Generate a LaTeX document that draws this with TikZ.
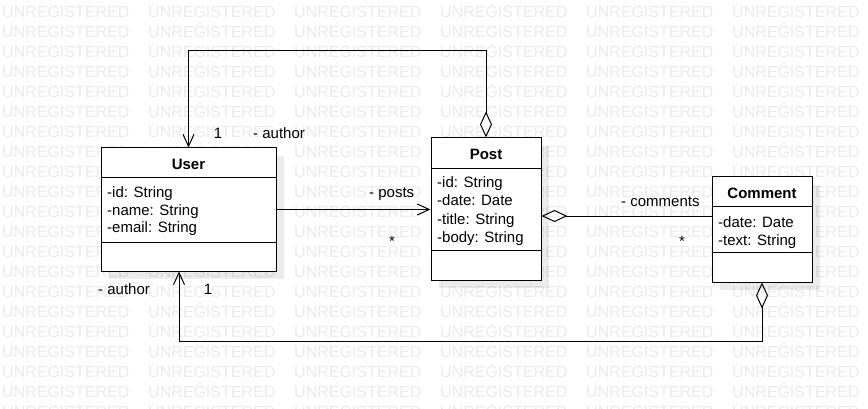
\documentclass[tikz,border=0pt]{standalone}
\usepackage{fontspec}
\setmainfont{Liberation Sans}
\usetikzlibrary{arrows.meta,shadows}
\tikzset{>=Straight Barb,
	classbox/.style={draw=black,fill=white,line width=1pt,inner sep=0pt,drop shadow={shadow xshift=8pt,shadow yshift=-8pt,fill=black,opacity=0.08}},
	ctitle/.style={inner sep=0pt,anchor=base,font=\fontsize{15}{18}\selectfont\bfseries},
	cattr/.style={inner sep=0pt,anchor=base west,font=\fontsize{15}{18}\selectfont},
	rlabel/.style={inner sep=0pt,font=\fontsize{15}{18}\selectfont},
	wmark/.style={inner sep=0pt,anchor=west,text=black!8,font=\fontsize{16}{19}\selectfont},
	assoc/.style={line width=1pt,-{Straight Barb[length=12pt,width=11pt]}},
	aggr/.style={line width=1pt,{Diamond[open,length=26pt,width=12pt]}-{Straight Barb[length=12pt,width=11pt]}},
	aggrline/.style={line width=1pt,{Diamond[open,length=26pt,width=12pt]}-}}

\begin{document}
\begin{tikzpicture}[x=1pt,y=-1pt]
	\useasboundingbox (0,0) rectangle (868,409);
	\clip (0,0) rectangle (868,409);
	\fill[white] (0,0) rectangle (868,409);
	\foreach \i in {0,...,5}
	\foreach \j in {0,...,20}
	\node (wm-\i-\j) at (2+146*\i,11.5+20*\j) [wmark] {UNREGISTERED};
	\node (User) at (188.5,209.5) [classbox,minimum width=175pt,minimum height=123pt] {};
	\node (Post) at (486,209) [classbox,minimum width=110pt,minimum height=142pt] {};
	\node (Comment) at (762,229.5) [classbox,minimum width=100pt,minimum height=105pt] {};
	\draw[line width=1pt] ([yshift=-30pt]User.north west) -- ([yshift=-30pt]User.north east);
	\draw[line width=1pt] ([yshift=-95pt]User.north west) -- ([yshift=-95pt]User.north east);
	\draw[line width=1pt] ([yshift=-31pt]Post.north west) -- ([yshift=-31pt]Post.north east);
	\draw[line width=1pt] ([yshift=-113pt]Post.north west) -- ([yshift=-113pt]Post.north east);
	\draw[line width=1pt] ([yshift=-30pt]Comment.north west) -- ([yshift=-30pt]Comment.north east);
	\draw[line width=1pt] ([yshift=-76pt]Comment.north west) -- ([yshift=-76pt]Comment.north east);
	\node (Utitle) at (188.5,170) [ctitle] {User};
	\node (Uid) at (107,197) [cattr] {-id: String};
	\node (Uname) at (107,215) [cattr] {-name: String};
	\node (Uemail) at (107,233) [cattr] {-email: String};
	\node (Ptitle) at (486,160) [ctitle] {Post};
	\node (Pid) at (437,188) [cattr] {-id: String};
	\node (Pdate) at (437,206) [cattr] {-date: Date};
	\node (Ptitlef) at (437,224) [cattr] {-title: String};
	\node (Pbody) at (437,242) [cattr] {-body: String};
	\node (Ctitle) at (762,199) [ctitle] {Comment};
	\node (Cdate) at (718,227) [cattr] {-date: Date};
	\node (Ctext) at (718,245) [cattr] {-text: String};
	\coordinate (topline) at (0,51);
	\coordinate (botline) at (0,341);
	\draw[aggr] (Post.north) |- (User.north |- topline) -- (User.north);
	\draw[assoc] (User.east) -- (Post.west |- User.east);
	\draw[aggrline] ([yshift=-7pt]Post.east) -- ([yshift=-7pt]Post.east -| Comment.west);
	\draw[aggr] (Comment.south) |- ([xshift=-9.5pt]User.south |- botline) -- ([xshift=-9.5pt]User.south);
	\node (l1) at (218,139) [rlabel,anchor=base] {1};
	\node (l2) at (253,139) [rlabel,anchor=base west] {- author};
	\node (l3) at (369,197) [rlabel,anchor=base west] {- posts};
	\node (l4) at (392,246) [rlabel,anchor=base] {*};
	\node (l5) at (621,207) [rlabel,anchor=base west] {- comments};
	\node (l6) at (682,247) [rlabel,anchor=base] {*};
	\node (l7) at (98,294) [rlabel,anchor=base west] {- author};
	\node (l8) at (208,294) [rlabel,anchor=base] {1};
\end{tikzpicture}
\end{document}
